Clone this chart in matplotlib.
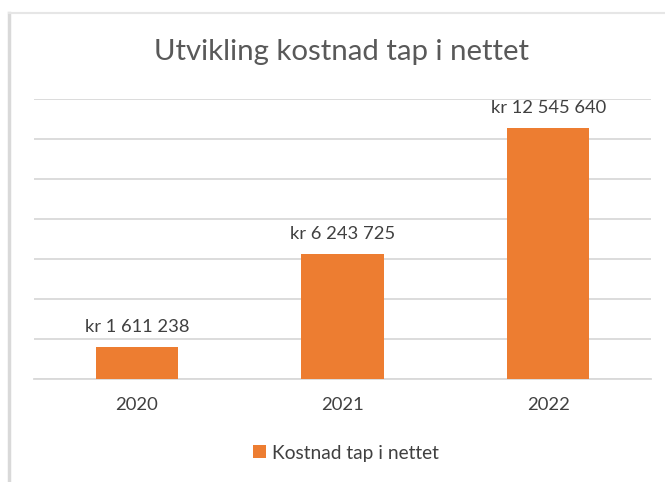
import matplotlib
matplotlib.use("Agg")
import matplotlib.pyplot as plt
from matplotlib.lines import Line2D

plt.rcParams['font.family'] = ['Lato', 'DejaVu Sans']

years = ["2020", "2021", "2022"]
kostnad = [1611238, 6243725, 12545640]
labels = ["kr 1 611 238", "kr 6 243 725", "kr 12 545 640"]
series_name = "Kostnad tap i nettet"
title = "Utvikling kostnad tap i nettet"

bar_color = "#ED7D31"
grid_color = "#D9D9D9"
text_color = "#404040"

fig = plt.figure(figsize=(6.65, 4.82), dpi=100)
ax = fig.add_axes([34 / 665, 1 - 379 / 482, (651 - 34) / 665, (379 - 99) / 482])

x = range(len(years))
bars = ax.bar(x, kostnad, width=0.4, color=bar_color, zorder=3, label=series_name)

ax.set_xlim(-0.5, 2.5)
ax.set_ylim(0, 14000000)
ax.set_yticks(range(0, 14000001, 2000000))
ax.yaxis.grid(True, color=grid_color, linewidth=1.3, zorder=0)
ax.set_yticklabels([])
ax.tick_params(axis="y", length=0)
ax.set_xticks(list(x))
ax.set_xticklabels(years, fontsize=13.3, color=text_color)
ax.tick_params(axis="x", length=0, pad=13)
for s in ["left", "right", "top"]:
    ax.spines[s].set_visible(False)
ax.spines["bottom"].set_color(grid_color)
ax.spines["bottom"].set_linewidth(1.3)

for b, lab in zip(bars, labels):
    ax.annotate(lab, (b.get_x() + b.get_width() / 2, b.get_height()),
                xytext=(0, 8.5), textcoords="offset points",
                ha="center", va="bottom", fontsize=13.2, color=text_color)

fig.text(342 / 665, 1 - 52 / 482, title, ha="center", va="center",
         fontsize=21.2, color="#595959")

fig.legend(handles=[bars], labels=[series_name], loc="center",
           bbox_to_anchor=(346 / 665, 1 - 453 / 482), frameon=False,
           fontsize=13.8, handlelength=0.65, handleheight=0.65,
           handletextpad=0.3, labelcolor=text_color)

# chart frame edges (left and top) as in the screenshot
fig.add_artist(Line2D([9 / 665, 9 / 665], [0, 1 - 13 / 482], color=grid_color,
                      linewidth=2.5, transform=fig.transFigure))
fig.add_artist(Line2D([9 / 665, 1], [1 - 13 / 482, 1 - 13 / 482], color="#E6E6E6",
                      linewidth=1.5, transform=fig.transFigure))

fig.savefig("out.png", dpi=100, facecolor="white")
